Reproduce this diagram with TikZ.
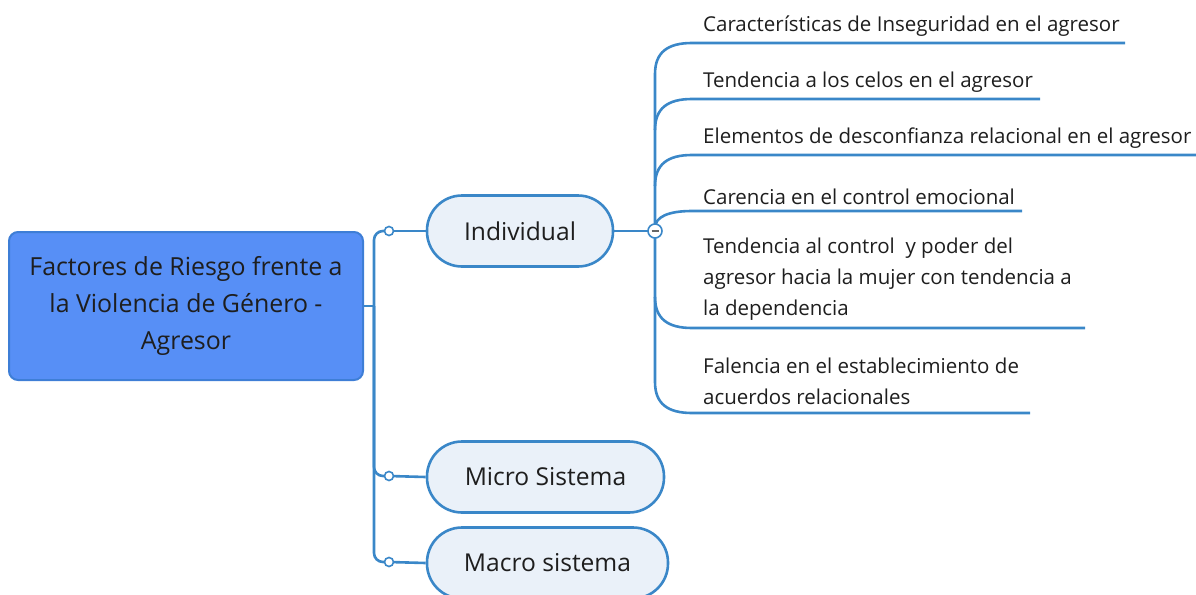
\documentclass[tikz,border=0pt]{standalone}
\usepackage{fontspec}
\setmainfont{Open Sans}
\definecolor{lineblue}{RGB}{58,135,200}
\definecolor{rootfill}{RGB}{87,143,246}
\definecolor{rootdraw}{RGB}{62,126,214}
\definecolor{nodefill}{RGB}{234,241,249}
\definecolor{txt}{RGB}{30,30,30}
\begin{document}
\begin{tikzpicture}[x=1pt,y=-1pt,
  conn/.style={draw=lineblue,line width=2.6pt},
  rootbox/.style={draw=rootdraw,fill=rootfill,line width=2pt,rounded corners=9pt,
    minimum width=354pt,minimum height=148pt,align=center,text=txt,
    font=\fontsize{24.9}{37}\selectfont,inner sep=0pt},
  topic/.style={draw=lineblue,fill=nodefill,line width=2.6pt,rounded corners=35pt,
    minimum height=71pt,text=txt,font=\fontsize{24.6}{28}\selectfont,inner sep=0pt},
  knob/.style={circle,draw=lineblue,fill=white,line width=1.6pt,minimum size=9pt,inner sep=0pt},
  leaf/.style={anchor=south west,align=left,text=txt,inner sep=0pt,
    font=\fontsize{20.5}{31}\selectfont},
]
\useasboundingbox (0,0) rectangle (1196,594);
% root
\node[rootbox] (root) at (186,306) {Factores de Riesgo frente a\\la Violencia de Género -\\Agresor};
% main topics
\node[topic,minimum width=186pt] (ind) at (520,231) {Individual};
\node[topic,minimum width=237pt] (mic) at (545.5,477) {Micro Sistema};
\node[topic,minimum width=241pt] (mac) at (547.5,563) {Macro sistema};
% trunk
\coordinate (tr) at (374,306);
\coordinate (k1p) at (389,231);
\coordinate (k2p) at (389,476);
\coordinate (k3p) at (389,562);
\draw[conn] (root.east) -- (tr);
\draw[conn,rounded corners=9pt] (tr) |- (k1p);
\draw[conn,rounded corners=9pt] (tr) |- (k2p);
\draw[conn,rounded corners=9pt] (tr) |- (k3p);
\draw[conn] (k1p) -- (ind.west);
\draw[conn] (k2p) -- (mic.west);
\draw[conn] (k3p) -- (mac.west);
\node[knob] (k1) at (k1p) {};
\node[knob] (k2) at (k2p) {};
\node[knob] (k3) at (k3p) {};
% leaf branches
\coordinate (mp) at (655,231);
\draw[conn] (ind.east) -- (mp);
\coordinate (e1) at (1125,43);
\coordinate (e2) at (1040,99);
\coordinate (e3) at (1196,155);
\coordinate (e4) at (1022,211);
\coordinate (e5) at (1085,328);
\coordinate (e6) at (1030,413);
\draw[conn] (mp) -- (655,74) .. controls (655,52) and (668,43) .. (692,43) -- (e1);
\draw[conn] (655,130) .. controls (655,108) and (668,99) .. (692,99) -- (e2);
\draw[conn] (655,186) .. controls (655,164) and (668,155) .. (692,155) -- (e3);
\draw[conn] (mp) -- (655,228) .. controls (655,217) and (668,211) .. (692,211) -- (e4);
\draw[conn] (mp) -- (655,382) .. controls (655,404) and (668,413) .. (692,413) -- (e6);
\draw[conn] (655,297) .. controls (655,319) and (668,328) .. (692,328) -- (e5);
\node[knob,minimum size=14pt] (minus) at (mp) {};
\draw[line width=1.6pt,draw=black!60] ([xshift=-3.5pt]minus.center) -- ([xshift=3.5pt]minus.center);
% leaf texts
\node[leaf] (l1) at (703,37) {Características de Inseguridad en el agresor};
\node[leaf] (l2) at (703,93) {Tendencia a los celos en el agresor};
\node[leaf] (l3) at (703,149) {Elementos de desconfianza relacional en el agresor};
\node[leaf] (l4) at (703,205) {Carencia en el control emocional};
\node[leaf] (l5) at (703,321) {Tendencia al control\ \ y poder del\\agresor hacia la mujer con tendencia a\\la dependencia};
\node[leaf] (l6) at (703,405) {Falencia en el establecimiento de\\acuerdos relacionales};
\end{tikzpicture}
\end{document}
